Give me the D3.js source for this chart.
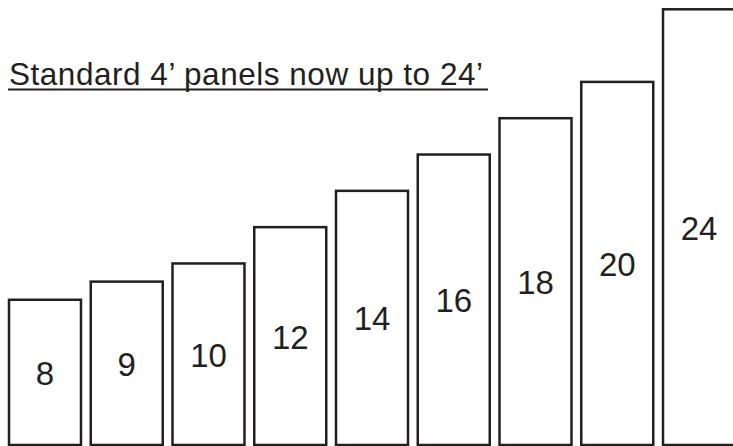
<!DOCTYPE html>
<html>
<head>
<meta charset="utf-8">
<script src="https://cdn.jsdelivr.net/npm/d3@7"></script>
<style>
  body { margin: 0; background: #fff; }
  svg { display: block; font-family: "Liberation Sans", Arial, sans-serif; }
</style>
</head>
<body>
<script>
var w = 733;
var h = 446;

// panel lengths in feet
var lengths = [8, 9, 10, 12, 14, 16, 18, 20, 24];
var title = "Standard 4\u2019 panels now up to 24\u2019";

var ink = "#231f20";

var xScale = d3.scaleBand()
    .domain(lengths)
    .range([9, 737])
    .paddingInner(0.095)
    .paddingOuter(0);

var yScale = d3.scaleLinear()
    .domain([0, 24])
    .range([445, 9.3]);

var svg = d3.select("body")
    .append("svg")
    .attr("width", w)
    .attr("height", h);

// bars
svg.selectAll("rect.bar")
    .data(lengths)
    .enter()
    .append("rect")
    .attr("class", "bar")
    .attr("x", function(d){ return xScale(d); })
    .attr("y", function(d){ return yScale(d); })
    .attr("width", xScale.bandwidth() - 2)
    .attr("height", function(d){ return yScale(0) - yScale(d); })
    .attr("fill", "#fff")
    .attr("stroke", ink)
    .attr("stroke-width", 2.5);

// labels sit in the middle of each bar
svg.selectAll("text.lbl")
    .data(lengths)
    .enter()
    .append("text")
    .attr("class", "lbl")
    .attr("x", function(d){ return xScale(d) + (xScale.bandwidth() - 2) / 2; })
    .attr("y", function(d){ return (yScale(d) + yScale(0)) / 2 + 1; })
    .attr("text-anchor", "middle")
    .attr("dominant-baseline", "central")
    .attr("font-size", "33px")
    .attr("fill", ink)
    .text(function(d){ return d; });

// title, underlined
svg.append("text")
    .attr("x", 9)
    .attr("y", 85)
    .attr("font-size", "31.5px")
    .attr("fill", ink)
    .attr("textLength", 474)
    .attr("lengthAdjust", "spacing")
    .text(title);

svg.append("line")
    .attr("x1", 8)
    .attr("x2", 488)
    .attr("y1", 89.5)
    .attr("y2", 89.5)
    .attr("stroke", ink)
    .attr("stroke-width", 2);
</script>
</body>
</html>
